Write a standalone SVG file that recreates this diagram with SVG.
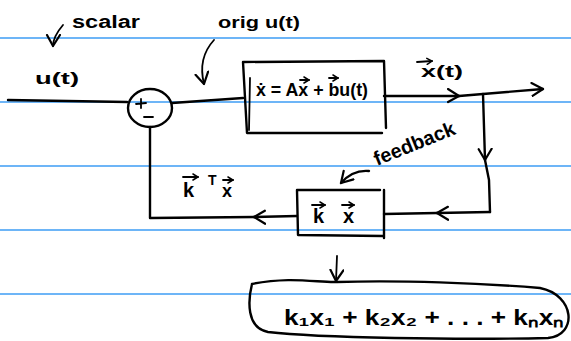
<svg xmlns="http://www.w3.org/2000/svg" width="571" height="341" viewBox="0 0 571 341">
<style>
.rule{stroke:#3d9cf5;stroke-width:1.6;fill:none}
.ln{stroke:#000;stroke-width:2.4;fill:none;stroke-linecap:round;stroke-linejoin:round}
.thin{stroke:#000;stroke-width:1.8;fill:none;stroke-linecap:round;stroke-linejoin:round}
.t{font-family:"Liberation Sans",Arial,sans-serif;font-weight:bold;fill:#000}
</style>
<defs>
<marker id="ch" viewBox="-12 -8 14 16" markerWidth="14" markerHeight="16" refX="0" refY="0" orient="auto" markerUnits="userSpaceOnUse">
<path d="M-11,-7 L0,0 L-11,6" fill="none" stroke="#000" stroke-width="2.2" stroke-linecap="round" stroke-linejoin="round"/>
</marker>
<marker id="vec" viewBox="-6 -4 7 8" markerWidth="7" markerHeight="8" refX="0" refY="0" orient="auto" markerUnits="userSpaceOnUse">
<path d="M-5,-3 L0,0 L-5,3" fill="none" stroke="#000" stroke-width="1.5" stroke-linecap="round"/>
</marker>
</defs>
<rect width="571" height="341" fill="#fff"/>
<g id="rules">
<line class="rule" x1="0" y1="38" x2="571" y2="38"/>
<line class="rule" x1="0" y1="102" x2="571" y2="102"/>
<line class="rule" x1="0" y1="166" x2="571" y2="166"/>
<line class="rule" x1="0" y1="230" x2="571" y2="230"/>
<line class="rule" x1="0" y1="294" x2="571" y2="294"/>
</g>
<g id="connectors">
<path class="ln" d="M8,100 L127,102"/>
<path class="ln" d="M172,103 L243,98"/>
<path class="ln" d="M384,96 L459,96" marker-end="url(#ch)"/>
<path class="ln" d="M459,96 L483,94 L543,89" marker-end="url(#ch)"/>
<path class="ln" d="M483,94 L485,160" marker-end="url(#ch)"/>
<path class="ln" d="M485,160 L489,180 L490,212"/>
<path class="ln" d="M490,212 L437,213" marker-end="url(#ch)"/>
<path class="ln" d="M437,213 L384,214"/>
<path class="ln" d="M297,216 L254,217" marker-end="url(#ch)"/>
<path class="ln" d="M254,217 L150,218 L150,127"/>
<path class="thin" d="M337,256 L336,281" marker-end="url(#ch)"/>
<path class="thin" d="M63,25 C57,32 53,38 53,46" marker-end="url(#ch)"/>
<path class="thin" d="M214,40 C203,52 200,68 204,84" marker-end="url(#ch)"/>
<path class="ln" d="M369,171 C358,170 348,175 341,183" marker-end="url(#ch)"/>
</g>
<g id="sum">
<ellipse class="ln" cx="150" cy="108" rx="22" ry="19"/>
<path class="thin" d="M136,104 L146,103 M141,99 L141,108 M144,117 L153,117"/>
</g>
<g id="plant">
<path class="ln" d="M244,62 L384,61 L386,128 M243,62 L247,133 L382,133"/>
<path class="thin" d="M250,78 L249,130"/>
<text class="t" x="256" y="96" font-size="18" textLength="112" lengthAdjust="spacingAndGlyphs">ẋ = Ax + bu(t)</text>
<path class="thin" d="M300,80 L309,80" marker-end="url(#vec)"/>
<path class="thin" d="M329,78 L338,78" marker-end="url(#vec)"/>
</g>
<g id="gain">
<path class="ln" d="M297,190 L380,190 M297,190 L298,235 L383,236 M384,190 L384,238"/>
<text class="t" x="313" y="223" font-size="20">k</text>
<text class="t" x="343" y="223" font-size="20">x</text>
<path class="thin" d="M312,205 L325,205" marker-end="url(#vec)"/>
<path class="thin" d="M342,205 L354,205" marker-end="url(#vec)"/>
</g>
<g id="sumout">
<path class="ln" d="M252,284 C290,276 320,283 337,282 C400,280 480,283 540,288 C575,295 578,335 548,338 C460,340 320,338 268,332 C246,328 248,300 252,284"/>
<text class="t" x="284" y="325" font-size="22" textLength="280" lengthAdjust="spacingAndGlyphs">k₁x₁ + k₂x₂ + . . . + kₙxₙ</text>
</g>
<g id="labels">
<text class="t" x="72" y="28" font-size="18" textLength="68" lengthAdjust="spacingAndGlyphs">scalar</text>
<text class="t" x="35" y="84" font-size="17" textLength="44" lengthAdjust="spacingAndGlyphs">u(t)</text>
<text class="t" x="218" y="28" font-size="17" textLength="82" lengthAdjust="spacingAndGlyphs">orig u(t)</text>
<text class="t" x="421" y="77" font-size="17" textLength="42" lengthAdjust="spacingAndGlyphs">x(t)</text>
<path class="thin" d="M417,62 L432,61" marker-end="url(#vec)"/>
<text class="t" x="183" y="197" font-size="20">k</text>
<text class="t" x="208" y="185" font-size="14">T</text>
<text class="t" x="222" y="197" font-size="18">x</text>
<path class="thin" d="M183,177 L198,177" marker-end="url(#vec)"/>
<path class="thin" d="M223,180 L233,180" marker-end="url(#vec)"/>
<text class="t" x="377" y="166" font-size="20" transform="rotate(-22 377 166)" textLength="86" lengthAdjust="spacingAndGlyphs">feedback</text>
</g>
</svg>
